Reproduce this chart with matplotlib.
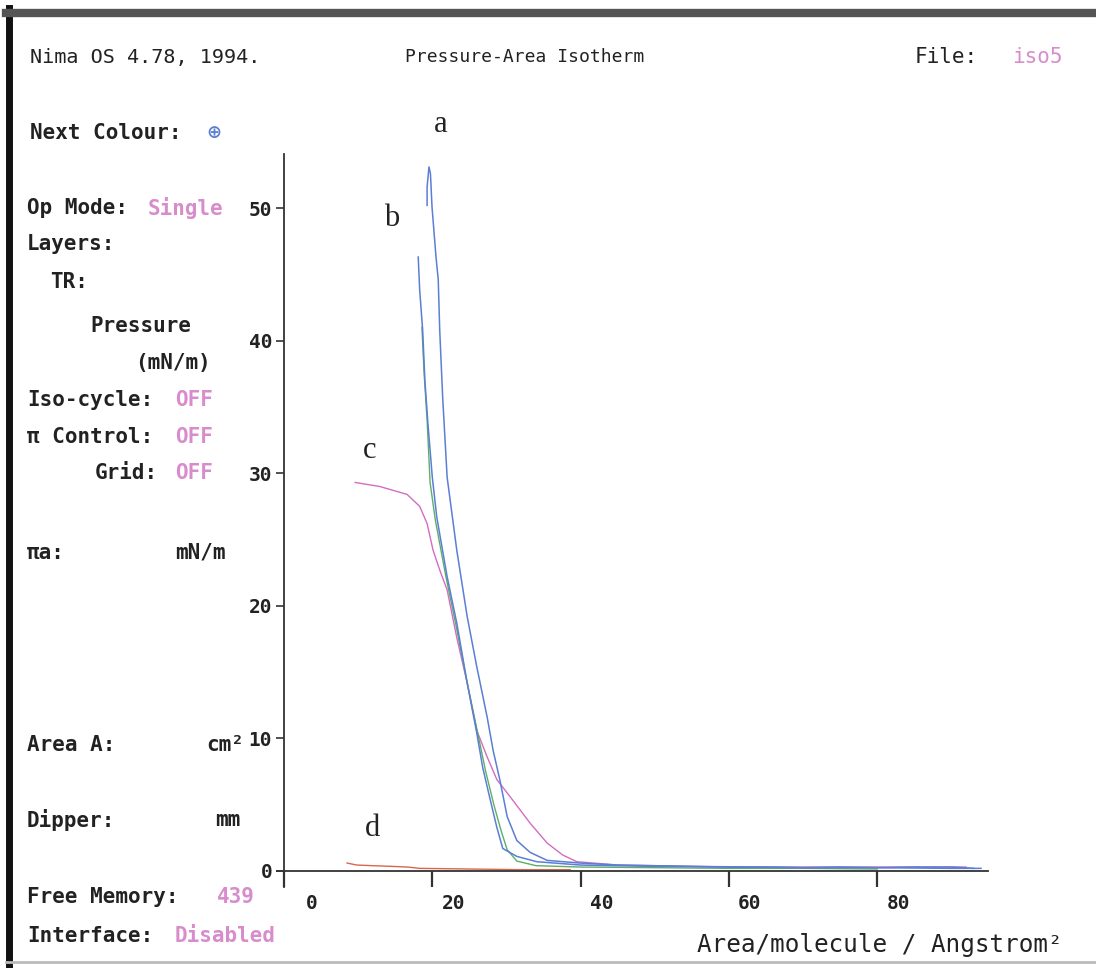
import matplotlib
matplotlib.use("Agg")
import matplotlib.pyplot as plt
from matplotlib.transforms import ScaledTranslation

W, H = 1096, 968

# isotherm curves (area per molecule / A^2, surface pressure / mN/m)
a_x = [19.3, 19.3, 19.55, 19.75, 19.96, 20.5, 20.8, 21.0, 21.4, 22.0, 23.3, 24.7, 26.0, 27.4, 28.2,
       29.1, 30.1, 31.4, 33.2, 35.5, 39.9, 45, 50, 55, 60, 65, 70, 75, 80, 85, 90, 93]
a_y = [50.2, 51.6, 53.1, 52.6, 50.1, 46.3, 44.6, 40.8, 35.7, 29.7, 24.2, 19.2, 15.4, 11.6, 9.1,
       6.9, 4.1, 2.3, 1.4, 0.8, 0.6, 0.45, 0.4, 0.35, 0.3, 0.3, 0.25, 0.3, 0.25, 0.3, 0.3, 0.2]

b_x = [18.1, 18.3, 18.7, 19.0, 19.4, 20.0, 20.6, 22.0, 23.3, 24.7, 26.0, 26.8, 27.8, 28.7, 29.5,
       31.4, 34.1, 40, 50, 60, 70, 80, 90, 94]
b_y = [46.3, 43.8, 40.8, 37.0, 33.8, 29.7, 26.7, 22.2, 18.7, 14.2, 10.4, 7.8, 5.4, 3.3, 1.7,
       1.1, 0.7, 0.45, 0.35, 0.3, 0.25, 0.25, 0.2, 0.2]

g_x = [18.6, 18.9, 19.3, 19.7, 20.4, 21.8, 23.2, 24.7, 26.2, 27.2, 28.3, 29.3, 30.1, 31.4, 34,
       40, 50, 60, 70, 80]
g_y = [41.0, 37.5, 34.0, 29.3, 26.5, 22.3, 18.5, 14.2, 10.2, 7.5, 5.0, 3.0, 1.6, 0.75, 0.4,
       0.3, 0.25, 0.2, 0.2, 0.15]

c_x = [9.6, 12.9, 16.6, 18.3, 19.3, 20.1, 21.0, 22.0, 23.3, 24.7, 26.0, 27.4, 28.7, 30.5, 33.2,
       35.5, 37.6, 39.5, 45, 55, 65, 75, 85, 92]
c_y = [29.3, 29.0, 28.4, 27.5, 26.2, 24.2, 22.7, 21.2, 17.6, 14.2, 10.6, 8.6, 6.9, 5.6, 3.6,
       2.1, 1.2, 0.7, 0.45, 0.35, 0.3, 0.3, 0.3, 0.3]

d_x = [8.5, 9.8, 12.0, 14.5, 16.6, 18.3, 25, 32, 38.6]
d_y = [0.6, 0.45, 0.4, 0.35, 0.3, 0.2, 0.15, 0.1, 0.1]

x_ticks = [0, 20, 40, 60, 80]
y_ticks = [0, 10, 20, 30, 40, 50]

BLUE = "#5a7fd4"
GREEN = "#5eae68"
PINK = "#d46cc4"
RED = "#d9674f"
TPINK = "#d88ccb"
DARK = "#222222"
MONO = "DejaVu Sans Mono"

fig = plt.figure(figsize=(W / 100, H / 100), dpi=100)
fig.patch.set_facecolor("white")

def fx(px):
    return px / W

def fy(py):
    return 1 - py / H

# screen frame
fig.add_artist(plt.Line2D([fx(9), fx(9)], [fy(8), fy(968)], color="#111111", lw=5))
fig.add_artist(plt.Line2D([fx(6), fx(1096)], [fy(13), fy(13)], color="#555555", lw=6))
fig.add_artist(plt.Line2D([fx(6), fx(1096)], [fy(962), fy(962)], color="#bbbbbb", lw=2))

# axes: x=0 at px 284, 7.415 px/unit; y=0 at px 871, 13.26 px/unit
xmin, xmax = -1.0, 95.0
ymin, ymax = -1.2, 54.1
left = 284 + xmin * 7.415
right = 284 + xmax * 7.415
top = 871 - ymax * 13.26
bottom = 871 - ymin * 13.26
ax = fig.add_axes([fx(left), fy(bottom), (right - left) / W, (bottom - top) / H])
ax.set_xlim(xmin, xmax)
ax.set_ylim(ymin, ymax)
ax.patch.set_alpha(0)

for s in ["top", "right"]:
    ax.spines[s].set_visible(False)
ax.spines["left"].set_position(("data", 0))
ax.spines["bottom"].set_position(("data", 0))
for s in ["left", "bottom"]:
    ax.spines[s].set_color("#333333")
    ax.spines[s].set_linewidth(1.3)

ax.plot(d_x, d_y, color=RED, lw=1.0)
ax.plot(c_x, c_y, color=PINK, lw=1.0)
ax.plot(g_x, g_y, color=GREEN, lw=1.0)
ax.plot(b_x, b_y, color=BLUE, lw=1.1)
ax.plot(a_x, a_y, color=BLUE, lw=1.1)

ax.set_xticks(x_ticks)
ax.set_xticklabels([str(v) for v in x_ticks])
ax.set_yticks(y_ticks)
ax.set_yticklabels([str(v) for v in y_ticks])
ax.tick_params(axis="x", direction="out", length=11.5, width=1.6, pad=5,
               colors="#333333", labelsize=14, labelcolor=DARK)
ax.tick_params(axis="y", direction="out", length=5.5, width=1.2, pad=3,
               colors="#333333", labelsize=14, labelcolor=DARK)
for lab in ax.get_xticklabels() + ax.get_yticklabels():
    lab.set_fontfamily(MONO)
    lab.set_fontweight("bold")
for i, lab in enumerate(ax.get_xticklabels()):
    dx = 0.28 if i == 0 else 0.21
    lab.set_transform(lab.get_transform() + ScaledTranslation(dx, 0, fig.dpi_scale_trans))

# curve labels
for s, px, py in [("a", 441, 125), ("b", 392, 218), ("c", 370, 450), ("d", 372, 828)]:
    fig.text(fx(px), fy(py), s, fontsize=22, family="Liberation Serif", color=DARK,
             ha="center", va="center")

# header line
fig.text(fx(30), fy(57), "Nima OS 4.78, 1994.", family=MONO, fontsize=14.5, color=DARK, va="center")
fig.text(fx(405), fy(57), "Pressure-Area Isotherm", family=MONO, fontsize=13, color=DARK, va="center")
fig.text(fx(915), fy(57), "File:", family=MONO, fontsize=15, color=DARK, va="center")
fig.text(fx(1063), fy(57), "iso5", family=MONO, fontsize=15, color=TPINK, va="center", ha="right")

# side panel
side = [
    ("Next Colour:", 30, 133, DARK),
    ("Op Mode:", 27, 208, DARK),
    ("Single", 148, 208, TPINK),
    ("Layers:", 27, 244, DARK),
    ("TR:", 50, 282, DARK),
    ("Pressure", 90, 326, DARK),
    ("(mN/m)", 135, 363, DARK),
    ("Iso-cycle:", 27, 400, DARK),
    ("OFF", 175, 400, TPINK),
    ("π Control:", 27, 437, DARK),
    ("OFF", 175, 437, TPINK),
    ("Grid:", 95, 473, DARK),
    ("OFF", 175, 473, TPINK),
    ("πa:", 27, 553, DARK),
    ("mN/m", 175, 553, DARK),
    ("Area A:", 27, 745, DARK),
    ("cm²", 206, 745, DARK),
    ("Dipper:", 27, 820, DARK),
    ("mm", 215, 820, DARK),
    ("Free Memory:", 27, 897, DARK),
    ("439", 217, 897, TPINK),
    ("Interface:", 27, 936, DARK),
    ("Disabled", 175, 936, TPINK),
]
for s, px, py, col in side:
    fig.text(fx(px), fy(py), s, family=MONO, fontsize=15, fontweight="bold",
             color=col, va="center")
fig.text(fx(206), fy(133), "⊕", family="DejaVu Sans", fontsize=13, fontweight="bold",
         color=BLUE, va="center")

fig.text(fx(1063), fy(945), "Area/molecule / Angstrom²", family=MONO, fontsize=17.5,
         color=DARK, va="center", ha="right")

fig.savefig("out.png", dpi=100, facecolor="white")
